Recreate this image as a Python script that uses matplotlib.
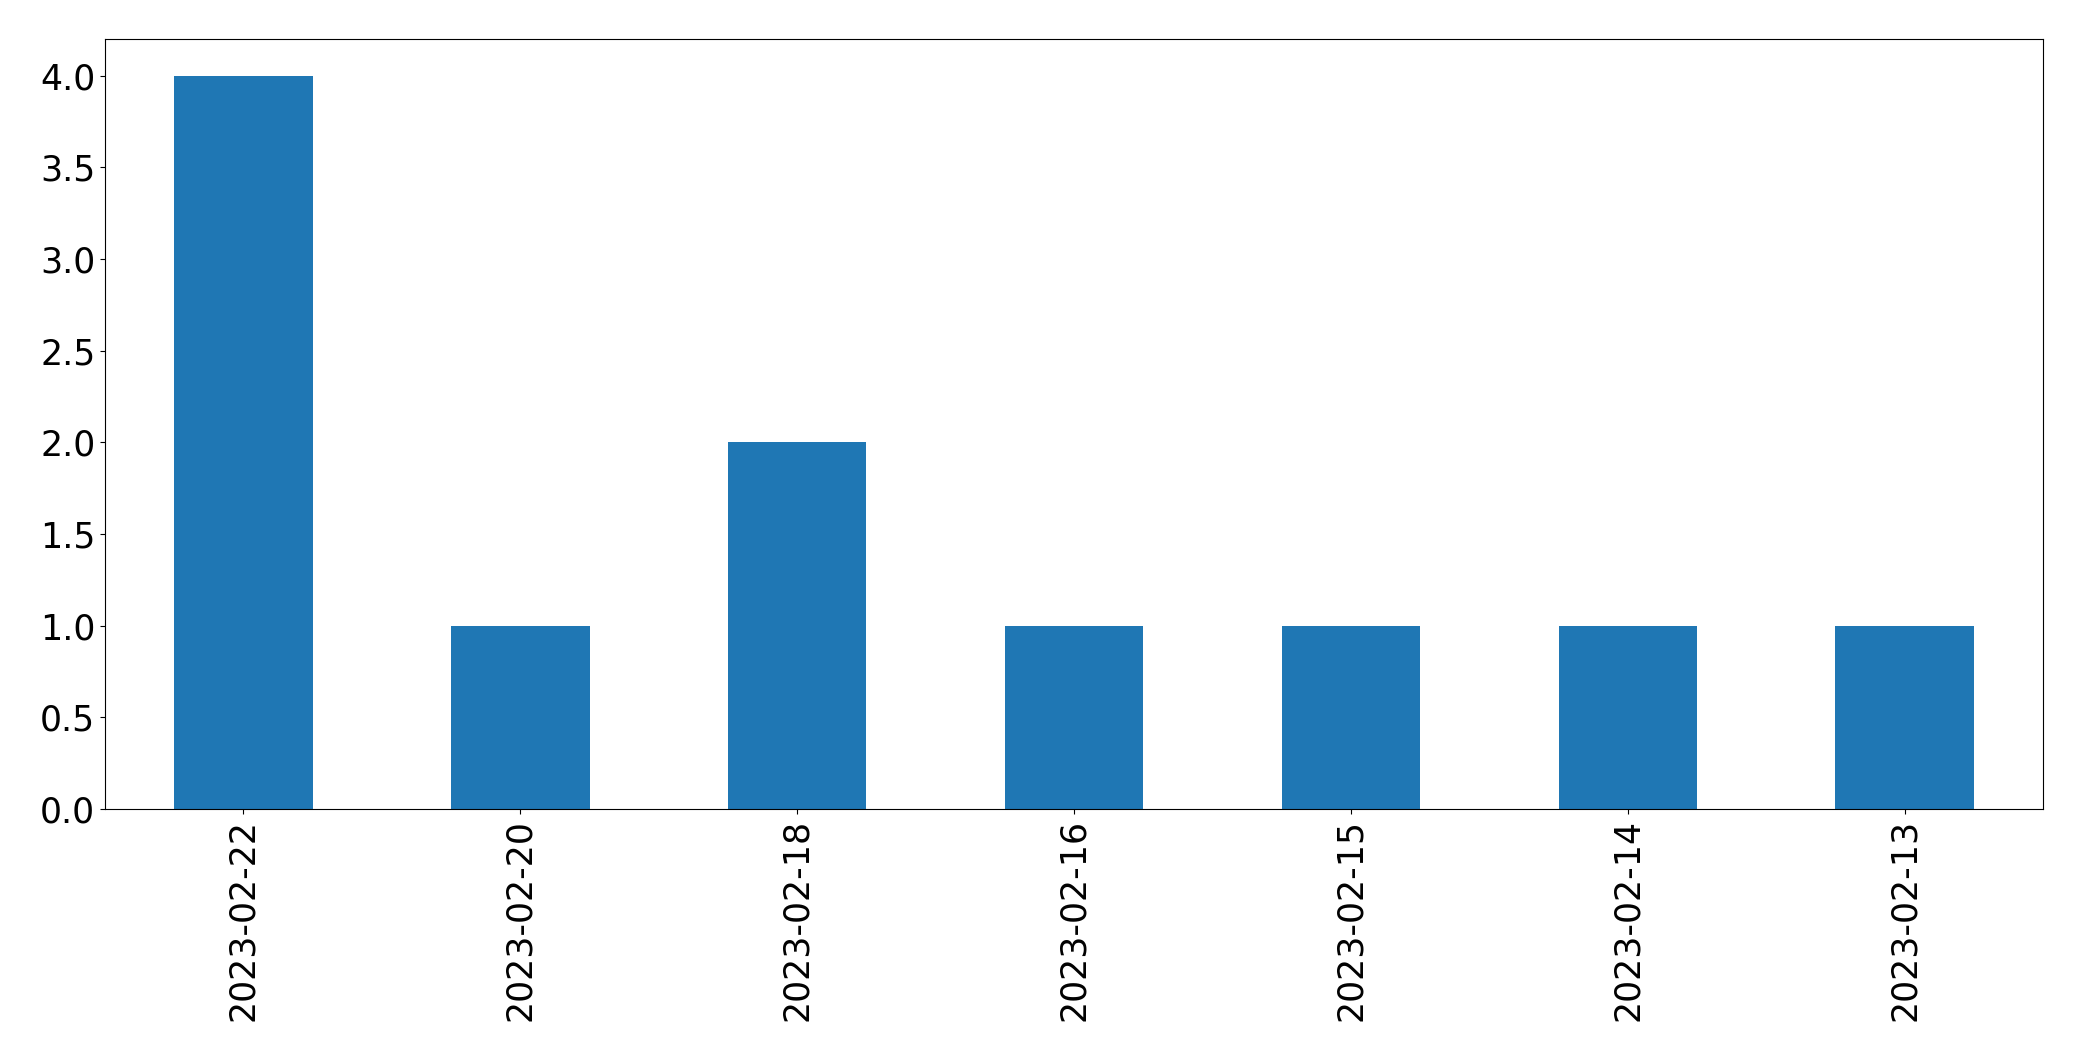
import matplotlib
matplotlib.use("Agg")
import matplotlib.pyplot as plt
import pandas as pd

dates = ["2023-02-22", "2023-02-20", "2023-02-18", "2023-02-16",
         "2023-02-15", "2023-02-14", "2023-02-13"]
counts = [4, 1, 2, 1, 1, 1, 1]

s = pd.Series(counts, index=dates)

fig = plt.figure(figsize=(20.82, 10.61), dpi=100)
ax = fig.add_axes([105/2082, 1 - 809/1061, (2043 - 105)/2082, (809 - 39)/1061])
s.plot(kind="bar", ax=ax, color="#1f77b4")
ax.tick_params(axis="both", labelsize=25)
fig.savefig("out.png", dpi=100)
